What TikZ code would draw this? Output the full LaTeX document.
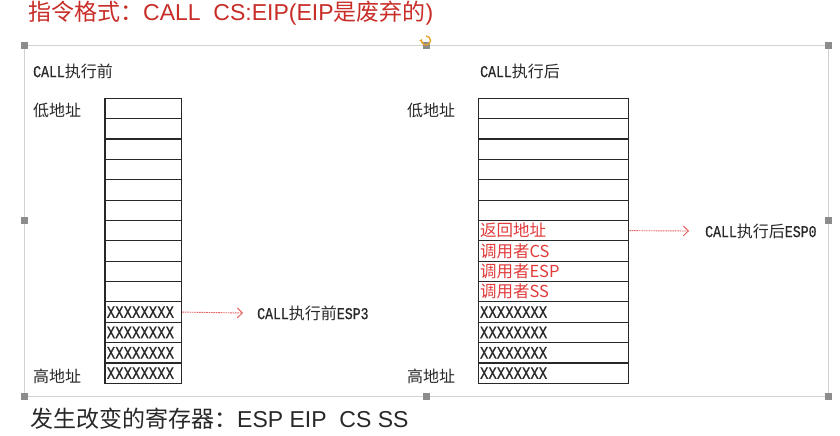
\documentclass[tikz,border=0pt]{standalone}
\usepackage{fontspec}
\setmainfont{Liberation Sans}
\newfontfamily\cjk{Noto Sans CJK SC}
\newfontfamily\mono[FakeStretch=0.8,FakeBold=0.6]{Liberation Mono}
\usetikzlibrary{arrows.meta}
\definecolor{titlered}{RGB}{200,45,40}
\definecolor{cellred}{RGB}{225,60,60}
\definecolor{ink}{RGB}{40,40,40}
\definecolor{framegrey}{RGB}{210,210,210}
\definecolor{handlegrey}{RGB}{140,140,140}
\definecolor{rotorange}{RGB}{230,160,40}
\tikzset{
  lcell/.style={draw=ink, line width=1.1pt, minimum width=76.7pt, minimum height=20.36pt, text width=73pt, inner xsep=1.5pt, inner ysep=0pt, align=left},
  rcell/.style={draw=ink, line width=1.1pt, minimum width=150.4pt, minimum height=20.36pt, text width=147pt, inner xsep=1.5pt, inner ysep=0pt, align=left},
  xs/.style={font=\mono\fontsize{17.5}{17.5}\selectfont, text=ink},
  rt/.style={font=\cjk\fontsize{16.5}{16.5}\selectfont, text=cellred},
  lab/.style={anchor=west, inner sep=0pt, text=ink},
  espline/.style={draw=cellred!80, line width=0.9pt, dash pattern=on 1.6pt off 0.8pt, -{Straight Barb[length=5pt,width=10pt,line width=1pt]}},
  handle/.style={fill=handlegrey, draw=none, minimum size=7pt, inner sep=0pt}
}
\newcommand{\cj}[1]{{\cjk\fontsize{16}{16}\selectfont #1}}
\newcommand{\ml}[1]{{\mono\fontsize{16.5}{16.5}\selectfont #1}}
\begin{document}
\begin{tikzpicture}[x=1pt,y=-1pt]
\useasboundingbox (0,0) rectangle (840,436);
\fill[white] (0,0) rectangle (840,436);
% title
\node[anchor=west, inner sep=0pt, text=titlered] (title) at (28,13)
  {\fontsize{23}{23}\selectfont{\cjk 指令格式：}CALL\ \ CS:EIP(EIP{\cjk 是废弃的})};
% frame
\draw[framegrey, line width=1pt] (24,46) rectangle (828,396);
\node[handle] (h1) at (24,46) {};
\node[handle] (h2) at (426,46) {};
\node[handle] (h3) at (828,46) {};
\node[handle] (h4) at (24,220) {};
\node[handle] (h5) at (828,220) {};
\node[handle] (h6) at (24,396) {};
\node[handle] (h7) at (426,396) {};
\node[handle] (h8) at (828,396) {};
\draw[rotorange, line width=1.3pt, -{Stealth[length=3pt,width=4pt]}] (426,36) arc[start angle=-90, end angle=200, radius=4.5];
% headings
\node[lab] (lh) at (33,71) {\ml{CALL}\cj{执行前}};
\node[lab] (rh) at (480,71) {\ml{CALL}\cj{执行后}};
\node[lab] (llow) at (33,110) {\cj{低地址}};
\node[lab] (lhigh) at (33,376) {\cj{高地址}};
\node[lab] (rlow) at (407,110) {\cj{低地址}};
\node[lab] (rhigh) at (407,376) {\cj{高地址}};
% left stack
\foreach \i in {0,...,9} {
  \node[lcell] (L\i) at (143.3, {98.3+20.36*(\i+0.5)}) {};
}
\foreach \i in {10,...,13} {
  \node[lcell, xs] (L\i) at (143.3, {98.3+20.36*(\i+0.5)}) {XXXXXXXX};
}
% right stack
\foreach \i in {0,...,5} {
  \node[rcell] (R\i) at (553.5, {98.3+20.36*(\i+0.5)}) {};
}
\node[rcell, rt] (R6) at (553.5, {98.3+20.36*6.5}) {返回地址};
\node[rcell, rt] (R7) at (553.5, {98.3+20.36*7.5}) {调用者CS};
\node[rcell, rt] (R8) at (553.5, {98.3+20.36*8.5}) {调用者ESP};
\node[rcell, rt] (R9) at (553.5, {98.3+20.36*9.5}) {调用者SS};
\foreach \i in {10,...,13} {
  \node[rcell, xs] (R\i) at (553.5, {98.3+20.36*(\i+0.5)}) {XXXXXXXX};
}
% ESP labels and arrows
\node[lab] (esp3) at (257,313) {\ml{CALL}\cj{执行前}\ml{ESP3}};
\node[lab] (esp0) at (705,231) {\ml{CALL}\cj{执行后}\ml{ESP0}};
\coordinate (a3) at (243,313);
\coordinate (a0) at (689,231);
\draw[espline] (L10.east) -- (a3);
\draw[espline] (R6.east) -- (a0);
% bottom
\node[anchor=west, inner sep=0pt, text=ink] (bottom) at (30,419)
  {\fontsize{23}{23}\selectfont{\cjk 发生改变的寄存器：}ESP EIP\ \ CS SS};
\end{tikzpicture}
\end{document}
